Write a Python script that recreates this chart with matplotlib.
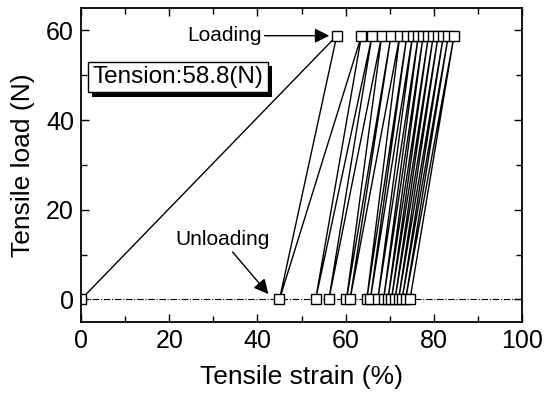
import matplotlib
matplotlib.use("Agg")
import matplotlib.pyplot as plt
import matplotlib.patheffects as pe

plt.rcParams['font.family'] = ['Liberation Sans', 'DejaVu Sans']

# peak (loading) and residual (unloading) strains for each cycle, %
load_strain = [58.0, 63.6, 66.0, 68.2, 70.3, 72.3, 73.9, 75.2,
               76.5, 77.6, 78.8, 79.9, 81.0, 82.2, 83.3, 84.6]
unload_strain = [45.0, 53.2, 56.2, 60.2, 61.0, 64.8, 65.6, 67.3,
                 68.6, 69.6, 70.4, 71.2, 72.0, 72.8, 73.6, 74.6]
tension = 58.8  # N

strain = [0.0]
load = [0.0]
for a, b in zip(load_strain, unload_strain):
    strain += [a, b]
    load += [tension, 0.0]

fig = plt.figure(figsize=(5.55, 3.94), dpi=100, facecolor='w')
ax = fig.add_axes([0.146, 0.183, 0.7945, 0.797])

ax.plot([0, 100], [0, 0], color='k', lw=0.8, ls='-.', dashes=(6, 1.5, 1, 1.5))
ax.plot(strain, load, color='k', lw=1.0, marker='s', ms=6.5,
        mfc='white', mec='k', mew=1.0)

ax.set_xlim(0, 100)
ax.set_ylim(-5, 65)
ax.set_xticks([0, 20, 40, 60, 80, 100])
ax.set_xticks([10, 30, 50, 70, 90], minor=True)
ax.set_yticks([0, 20, 40, 60])
ax.set_yticks([10, 30, 50], minor=True)
ax.tick_params(which='both', direction='in', top=True, right=True, width=1.0,
               labelsize=18, pad=5)
ax.tick_params(which='major', length=6)
ax.tick_params(which='minor', length=4)
for s in ax.spines.values():
    s.set_linewidth(1.3)

ax.set_xlabel('Tensile strain (%)', fontsize=19, labelpad=9)
ax.set_ylabel('Tensile load (N)', fontsize=19, labelpad=8)

arrow = dict(arrowstyle='-|>', color='k', lw=1.0, mutation_scale=22,
             shrinkA=0, shrinkB=0)
ax.annotate('Loading', xy=(56.3, tension), xytext=(41, tension),
            fontsize=15, ha='right', va='center', arrowprops=arrow)
ax.annotate('Unloading', xy=(42.5, 1.2), xytext=(32, 11.2),
            fontsize=15, ha='center', va='bottom', arrowprops=arrow)

t = ax.text(22.0, 49.6, 'Tension:58.8(N)', fontsize=17.5, ha='center', va='center',
            bbox=dict(boxstyle='square,pad=0.18', fc='white', ec='k', lw=1.0))
t.get_bbox_patch().set_path_effects([
    pe.SimplePatchShadow(offset=(3, -3), shadow_rgbFace='k', alpha=1.0),
    pe.Normal()])

plt.savefig('out.png', dpi=100)
